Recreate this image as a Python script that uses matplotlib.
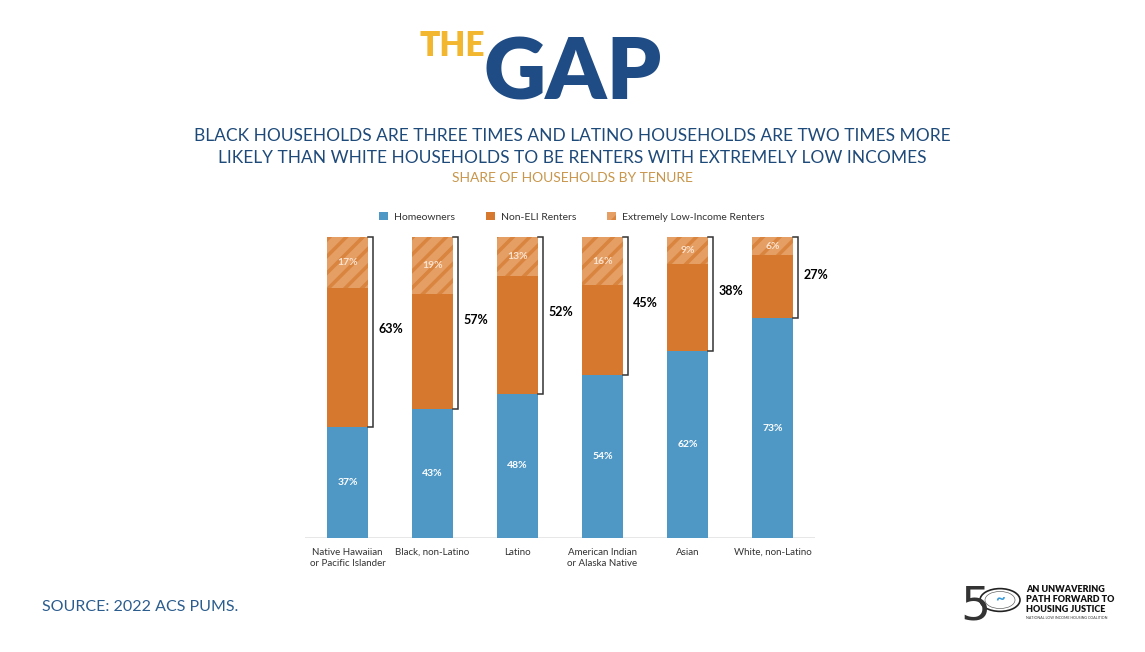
import matplotlib
matplotlib.use("Agg")
import matplotlib.pyplot as plt
from matplotlib.patches import Circle
import numpy as np

plt.rcParams['font.family'] = ['Lato', 'DejaVu Sans']
plt.rcParams['hatch.linewidth'] = 2.5

categories = ["Native Hawaiian\nor Pacific Islander", "Black, non-Latino", "Latino",
              "American Indian\nor Alaska Native", "Asian", "White, non-Latino"]
homeowners = [37, 43, 48, 54, 62, 73]
non_eli_renters = [46, 38, 39, 30, 29, 21]
eli_renters = [17, 19, 13, 16, 9, 6]
total_renters = [63, 57, 52, 45, 38, 27]

BLUE = "#4F98C6"
ORANGE = "#D6792F"
ELI_FACE = "#E59E63"
ELI_HATCH = "#D9843F"
NAVY = "#1E4A7A"
GOLD = "#C8964A"

W, H = 1145, 652
fig = plt.figure(figsize=(W / 100, H / 100), dpi=100)

left_px, right_px = 305, 815
top_px, bot_px = 237, 538
ax = fig.add_axes([left_px / W, 1 - bot_px / H, (right_px - left_px) / W, (bot_px - top_px) / H])
x = np.arange(len(categories)) * 1.0
bw = 0.48
ax.bar(x, homeowners, bw, color=BLUE, label="Homeowners")
ax.bar(x, non_eli_renters, bw, bottom=homeowners, color=ORANGE, label="Non-ELI Renters")
bottoms2 = np.array(homeowners) + np.array(non_eli_renters)
ax.bar(x, eli_renters, bw, bottom=bottoms2, color=ELI_FACE, edgecolor=ELI_HATCH,
       linewidth=0, hatch="//", label="Extremely Low-Income Renters")
ax.set_xlim(-0.5, len(categories) - 0.5)
ax.set_ylim(0, 100)
for s in ax.spines.values():
    s.set_visible(False)
ax.axhline(0, color="#E3E3E3", lw=1.2, zorder=0)
ax.set_yticks([])
ax.set_xticks(x)
ax.set_xticklabels(categories, fontsize=7, color="#333333", linespacing=1.35)
ax.tick_params(axis='x', length=0, pad=7)

for i in range(len(categories)):
    ax.text(x[i], homeowners[i] / 2, f"{homeowners[i]}%", ha='center', va='center',
            color='white', fontsize=7.5, fontweight='bold')
    ax.text(x[i], bottoms2[i] + eli_renters[i] / 2, f"{eli_renters[i]}%", ha='center', va='center',
            color='#FBE3CF', fontsize=7.5, fontweight='bold')
    bx = x[i] + bw / 2 + 0.06
    tick = 0.055
    y0, y1 = homeowners[i], 100
    ax.plot([bx - tick, bx, bx, bx - tick], [y0, y0, y1, y1], color='#333333', lw=1.1,
            clip_on=False, solid_joinstyle='miter')
    ax.text(bx + 0.06, (y0 + y1) / 2 + 1, f"{total_renters[i]}%", ha='left', va='center',
            color='black', fontsize=9, fontweight='bold')

handles, labels = ax.get_legend_handles_labels()
leg = fig.legend(handles, labels, loc='center', bbox_to_anchor=(572 / W, 1 - 217 / H),
                 ncol=3, frameon=False, fontsize=7.5, handlelength=0.8, handleheight=0.8,
                 columnspacing=3.0, handletextpad=0.6)
for t in leg.get_texts():
    t.set_color('#333333')

# Title logo
fig.text(420 / W, 1 - 56 / H, "THE", color="#F2B72F", fontsize=24, fontweight='heavy',
         ha='left', va='baseline')
fig.text(484 / W, 1 - 100 / H, "GAP", color="#1F4C85", fontsize=62, fontweight='heavy',
         ha='left', va='baseline')

fig.text(0.5, 1 - 136 / H, "BLACK HOUSEHOLDS ARE THREE TIMES AND LATINO HOUSEHOLDS ARE TWO TIMES MORE",
         ha='center', va='center', color=NAVY, fontsize=12.5)
fig.text(0.5, 1 - 158 / H, "LIKELY THAN WHITE HOUSEHOLDS TO BE RENTERS WITH EXTREMELY LOW INCOMES",
         ha='center', va='center', color=NAVY, fontsize=12.5)
fig.text(0.5, 1 - 178 / H, "SHARE OF HOUSEHOLDS BY TENURE", ha='center', va='center',
         color=GOLD, fontsize=10)

fig.text(42 / W, 1 - 607 / H, "SOURCE: 2022 ACS PUMS.", ha='left', va='center',
         color="#2A5C8E", fontsize=11.5)

# bottom-right logo
fig.text(960 / W, 1 - 620 / H, "5", fontsize=34, color="#333333",
         ha='left', va='baseline', family=['DejaVu Sans'])
circ = Circle((1000 / W, 1 - 600 / H), 20 / W, transform=fig.transFigure, fill=False,
              ec="#222222", lw=1.2)
fig.patches.append(circ)
circ2 = Circle((1000 / W, 1 - 600 / H), 15 / W, transform=fig.transFigure, fill=False,
               ec="#666666", lw=0.5)
fig.patches.append(circ2)
fig.text(1000 / W, 1 - 598 / H, "~", fontsize=12, color="#3A9AD9", ha='center', va='center',
         fontweight='bold')
for j, line in enumerate(["AN UNWAVERING", "PATH FORWARD TO", "HOUSING JUSTICE"]):
    fig.text(1026 / W, 1 - (590 + j * 10) / H, line, fontsize=6.5, fontweight='heavy',
             color="#111111", ha='left', va='center')
fig.text(1026 / W, 1 - 618 / H, "NATIONAL LOW INCOME HOUSING COALITION", fontsize=2.6,
         color="#333333", ha='left', va='center')

fig.savefig("out.png", dpi=100, facecolor='white')
